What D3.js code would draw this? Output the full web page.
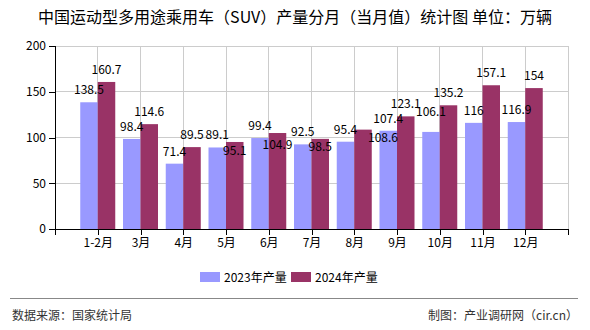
<!DOCTYPE html>
<html><head><meta charset="utf-8">
<script src="https://cdn.jsdelivr.net/npm/d3@7/dist/d3.min.js"></script>
<style>
body{margin:0;background:#fff;}
svg{display:block;font-family:"Noto Sans CJK SC","Noto Sans",sans-serif;}
</style></head>
<body><svg id="c" width="590" height="330"></svg>
<script>
const categories = ["1-2月","3月","4月","5月","6月","7月","8月","9月","10月","11月","12月"];
const values2023 = [138.5,98.4,71.4,89.1,99.4,92.5,95.4,107.4,106.1,116,116.9];
const values2024 = [160.7,114.6,89.5,95.1,104.9,98.5,108.6,123.1,135.2,157.1,154];
const seriesNames = ["2023年产量","2024年产量"];
const yTicks = [0,50,100,150,200];
const colors = ["#9999ff","#993366"];

(function(){
const svg = d3.select("#c");
const pL = 55, pR = 568, pT = 46, pB = 229;
const x = d3.scalePoint().domain(categories).range([pL,pR]).padding(1);
const y = d3.scaleLinear().domain([0,200]).range([pB,pT]);
const bw = 17.5;

// title
svg.append("text").attr("x",295).attr("y",23).attr("text-anchor","middle")
  .attr("font-size",16).attr("fill","#000")
  .text("中国运动型多用途乘用车（SUV）产量分月（当月值）统计图 单位：万辆");

// grid
const g = svg.append("g");
g.selectAll(".hg").data(yTicks).join("line")
  .attr("x1",pL).attr("x2",pR).attr("y1",d=>y(d)).attr("y2",d=>y(d))
  .attr("stroke","#cccccc").attr("stroke-width",1).attr("shape-rendering","crispEdges");
g.selectAll(".vg").data(categories).join("line")
  .attr("x1",d=>x(d)).attr("x2",d=>x(d)).attr("y1",pT).attr("y2",pB)
  .attr("stroke","#cccccc").attr("shape-rendering","crispEdges");
g.append("line").attr("x1",pR).attr("x2",pR).attr("y1",pT).attr("y2",pB)
  .attr("stroke","#cccccc").attr("shape-rendering","crispEdges");

// bars
const series = [values2023, values2024];
series.forEach((vals,si)=>{
  svg.append("g").selectAll("rect").data(vals).join("rect")
    .attr("x",(d,i)=>x(categories[i]) + (si===0 ? -bw : 0))
    .attr("width",bw)
    .attr("y",d=>y(d)).attr("height",d=>pB-y(d))
    .attr("fill",colors[si]);
});

// axes
const yAxis = d3.axisLeft(y).tickValues(yTicks).tickSize(6).tickPadding(3);
const ya = svg.append("g").attr("transform",`translate(${pL},0)`).call(yAxis);
ya.select(".domain").attr("stroke","#000").attr("shape-rendering","crispEdges");
ya.selectAll(".tick line").attr("stroke","#000").attr("shape-rendering","crispEdges");
ya.selectAll("text").attr("font-size",12).attr("fill","#000").attr("font-family","'Noto Sans CJK SC',sans-serif");

const xAxis = d3.axisBottom(x).tickSize(6).tickPadding(3).tickSizeOuter(6);
const xa = svg.append("g").attr("transform",`translate(0,${pB})`).call(xAxis);
xa.select(".domain").attr("stroke","#000").attr("shape-rendering","crispEdges");
xa.selectAll(".tick line").attr("stroke","#000").attr("shape-rendering","crispEdges");
xa.selectAll("text").attr("font-size",12).attr("fill","#000").attr("font-family","'Noto Sans CJK SC',sans-serif");

// data labels (a few placed below the bar top as in the reference)
const below = {"1-3":13,"1-4":16,"1-5":12,"1-6":12};
const shiftX = {"1-6":20};
const raise = {"0-8":8};
series.forEach((vals,si)=>{
  svg.append("g").selectAll("text").data(vals).join("text")
    .attr("x",(d,i)=>x(categories[i]) + (si===0 ? -bw/2 : bw/2) + (shiftX[si+"-"+i]||0))
    .attr("y",(d,i)=>{
      const k = si+"-"+i;
      if (below[k] !== undefined) return y(d)+below[k];
      return y(d)-8-(raise[k]||0);
    })
    .attr("text-anchor","middle").attr("font-size",12).attr("fill","#000")
    .text(d=>d);
});

// legend
const lg = svg.append("g");
const lx = [200, 291];
seriesNames.forEach((n,i)=>{
  lg.append("rect").attr("x",lx[i]).attr("y",272).attr("width",20).attr("height",10).attr("fill",colors[i]);
  lg.append("text").attr("x",lx[i]+24).attr("y",281.5).attr("font-size",12).attr("fill","#000").text(n);
});

// footer
svg.append("line").attr("x1",10).attr("x2",578).attr("y1",298.5).attr("y2",298.5)
  .attr("stroke","#888").attr("stroke-width",1);
svg.append("text").attr("x",12).attr("y",320).attr("font-size",12).attr("fill","#333").text("数据来源：国家统计局");
svg.append("text").attr("x",578).attr("y",320).attr("text-anchor","end").attr("font-size",12).attr("fill","#333").text("制图：产业调研网（cir.cn）");
})();
</script></body></html>
